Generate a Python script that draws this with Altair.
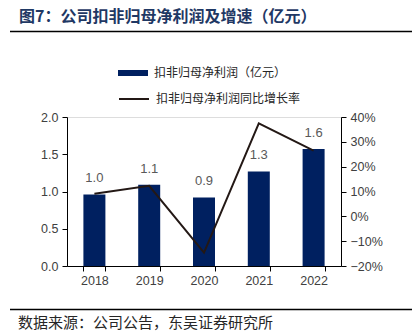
import altair as alt
import pandas as pd

years = ["2018", "2019", "2020", "2021", "2022"]
profit = [0.96, 1.09, 0.92, 1.27, 1.57]
growth = [0.091, 0.123, -0.146, 0.374, 0.265]
bar_name = "扣非归母净利润（亿元）"
line_name = "扣非归母净利润同比增长率"
title_text = "图7：公司扣非归母净利润及增速（亿元）"
source_text = "数据来源：公司公告，东吴证券研究所"
left_ticks = [0.0, 0.5, 1.0, 1.5, 2.0]
right_ticks = [-0.2, -0.1, 0, 0.1, 0.2, 0.3, 0.4]

df = pd.DataFrame({"year": years, "profit": profit, "growth": growth,
                   "s_bar": [bar_name] * 5, "s_line": [line_name] * 5})

W, H = 274, 149
PL, PT, PR, PB = 67, 117, 77, 65
NUMF = "Liberation Sans"
CJK = "Noto Sans CJK SC"
LAB = "#404040"

xenc = alt.X("year:N", title=None,
             scale=alt.Scale(paddingInner=0.6, paddingOuter=0.3),
             axis=alt.Axis(labelAngle=0, tickBand="extent", domainColor="#000", tickColor="#000",
                           tickSize=5, labelPadding=3, labelFontSize=12.5, labelColor=LAB,
                           labelFont=NUMF, grid=False))

base = alt.Chart(df)

bars = base.mark_bar(size=22).encode(
    x=xenc,
    y=alt.Y("profit:Q", title=None, scale=alt.Scale(domain=[0, 2], nice=False),
            axis=alt.Axis(values=left_ticks, format=".1f", domainColor="#000",
                          tickColor="#000", tickSize=5, labelPadding=4, labelFontSize=12.5,
                          labelColor=LAB, labelFont=NUMF, grid=False, labelOverlap=False)),
    color=alt.Color("s_bar:N", scale=alt.Scale(range=["#002060"]),
                    legend=alt.Legend(title=None, orient="none", legendX=51, legendY=-59,
                                      symbolType="M-1,-0.2H1V0.2H-1Z", symbolSize=900,
                                      symbolOpacity=1, symbolStrokeWidth=0,
                                      labelFontSize=12, labelFont=CJK, labelColor="#262626",
                                      labelOffset=6, padding=0)),
)

labels = base.mark_text(dy=-16, color="#595959", fontSize=13, font=NUMF).encode(
    x=alt.X("year:N"),
    y=alt.Y("profit:Q", scale=alt.Scale(domain=[0, 2], nice=False), axis=None),
    text=alt.Text("profit:Q", format=".1f"),
)

line = base.mark_line(strokeWidth=2).encode(
    x=alt.X("year:N"),
    y=alt.Y("growth:Q", title=None, scale=alt.Scale(domain=[-0.2, 0.4], nice=False),
            axis=alt.Axis(orient="right", values=right_ticks, format=".0%", domainColor="#000",
                          tickColor="#000", tickSize=5, labelPadding=4, labelFontSize=12.5,
                          labelColor=LAB, labelFont=NUMF, grid=False, labelOverlap=False)),
    color=alt.Color("s_line:N", scale=alt.Scale(range=["#231815"]),
                    legend=alt.Legend(title=None, orient="none", legendX=51, legendY=-34,
                                      symbolType="stroke", symbolSize=900, symbolStrokeWidth=2,
                                      labelFontSize=12, labelFont=CJK, labelColor="#262626",
                                      labelOffset=6, padding=0)),
)

title = alt.Chart(pd.DataFrame({"t": [title_text]})).mark_text(
    align="left", baseline="middle", fontSize=16, font=CJK,
    fontWeight="bold", color="#1F3864").encode(
    text="t:N", x=alt.value(19 - PL), y=alt.value(17 - PT))

src = alt.Chart(pd.DataFrame({"t": [source_text]})).mark_text(
    align="left", baseline="middle", fontSize=15, font=CJK, color="#262626").encode(
    text="t:N", x=alt.value(18 - PL), y=alt.value(323 - PT))

rule_top = alt.Chart(pd.DataFrame({"a": [0]})).mark_rule(color="#000", strokeWidth=1.5).encode(
    x=alt.value(10 - PL), x2=alt.value(412 - PL), y=alt.value(31.5 - PT))
rule_bot = alt.Chart(pd.DataFrame({"a": [0]})).mark_rule(color="#000", strokeWidth=1.5).encode(
    x=alt.value(10 - PL), x2=alt.value(412 - PL), y=alt.value(309.5 - PT))

chart = alt.layer(
    bars, labels, line,
    title, src, rule_top, rule_bot,
).resolve_scale(y="independent", color="independent").properties(
    width=W, height=H,
    autosize=alt.AutoSizeParams(type="none"),
    padding={"left": PL, "top": PT, "right": PR, "bottom": PB},
).configure_view(stroke=None).configure(font=NUMF, background="white")

chart.save("out.html", embed_options={"renderer": "svg", "actions": False})
